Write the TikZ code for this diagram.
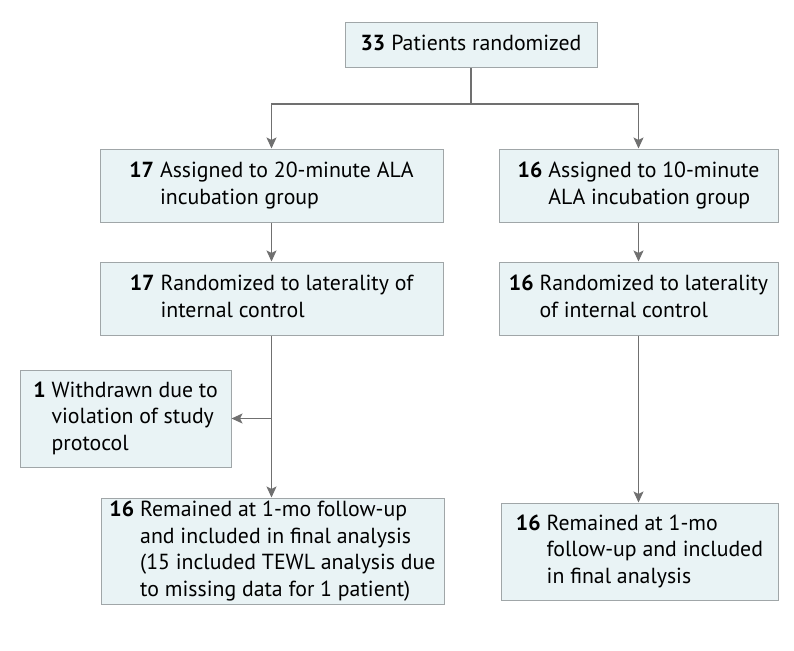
\documentclass[tikz,border=0pt]{standalone}
\usepackage{fontspec}
\setmainfont{PT Sans}
\usetikzlibrary{arrows.meta}
\definecolor{boxfill}{HTML}{E9F3F5}
\definecolor{boxline}{HTML}{A0A6A8}
\definecolor{arrowc}{HTML}{707070}
\newcommand{\entry}[2]{\begin{tabular}{@{}l@{\hspace{6pt}}l@{}}\textbf{#1} & #2\end{tabular}}
\begin{document}
\begin{tikzpicture}[x=1pt,y=-1pt,
  box/.style={draw=boxline, line width=1pt, fill=boxfill, inner sep=0pt, align=left, font=\fontsize{21.8}{26.5}\selectfont},
  arr/.style={draw=arrowc, line width=1.2pt, -{Stealth[length=11pt,width=10pt,inset=2.5pt]}},
  ln/.style={draw=arrowc, line width=1.2pt}]
\useasboundingbox (0,0) rectangle (794,650);
\node[box, minimum width=252pt, minimum height=45pt] (top) at (471,45.5) {\entry{33}{Patients randomized}};
\node[box, minimum width=343pt, minimum height=73pt] (l1) at (271.5,185.5) {\entry{17}{Assigned to 20-minute ALA\\ & incubation group}};
\node[box, minimum width=279pt, minimum height=73pt] (r1) at (638.5,185.5) {\entry{16}{Assigned to 10-minute\\ & ALA incubation group}};
\node[box, minimum width=343pt, minimum height=73pt] (l2) at (271.5,298.5) {\entry{17}{Randomized to laterality of\\ & internal control}};
\node[box, minimum width=279pt, minimum height=73pt] (r2) at (638.5,298.5) {\entry{16}{Randomized to laterality\\ & of internal control}};
\node[box, minimum width=211pt, minimum height=97pt] (w) at (125.5,418.5) {\entry{1}{Withdrawn due to\\ & violation of study\\ & protocol}};
\node[box, minimum width=343pt, minimum height=96pt] (l3) at (272.5,551) {\entry{16}{Remained at 1-mo follow-up\\ & and included in final analysis\\ & (15 included TEWL analysis due\\ & to missing data for 1 patient)}};
\node[box, minimum width=277pt, minimum height=97pt] (r3) at (639.5,551.5) {\entry{16}{Remained at 1-mo\\ & follow-up and included\\ & in final analysis}};
\coordinate (split) at (471,104);
\coordinate (branch) at (l2.south |- w.east);
\draw[ln] (top.south) -- (split);
\draw[arr] (split) -| (l1.north);
\draw[arr] (split) -| (r1.north);
\draw[arr] (l1) -- (l2);
\draw[arr] (r1) -- (r2);
\draw[arr] (l2.south) -- (l2.south |- l3.north);
\draw[arr] (branch) -- (w.east);
\draw[arr] (r2.south) -- (r2.south |- r3.north);
\end{tikzpicture}
\end{document}
